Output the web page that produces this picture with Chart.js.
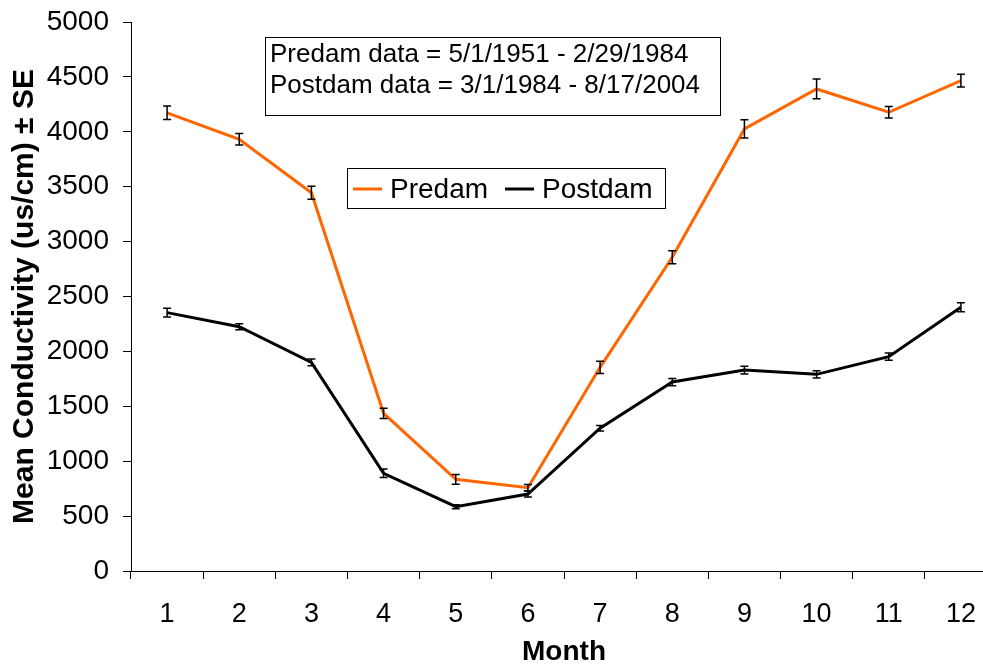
<!DOCTYPE html>
<html>
<head>
<meta charset="utf-8">
<script src="https://cdn.jsdelivr.net/npm/chart.js@4/dist/chart.umd.min.js"></script>
<style>
  html, body { margin: 0; padding: 0; background: #fff; overflow: hidden; }
  #wrap { width: 1000px; height: 667px; }
</style>
</head>
<body>
<div id="wrap"><canvas id="grafico"></canvas></div>
<script>
const months = ['1', '2', '3', '4', '5', '6', '7', '8', '9', '10', '11', '12'];
const predam = [4173, 3932, 3445, 1436, 835, 759, 1855, 2857, 4026, 4390, 4178, 4465];
const predamSE = [62, 52, 60, 47, 45, 28, 56, 59, 83, 90, 52, 58];
const postdam = [2353, 2225, 1900, 890, 586, 701, 1300, 1721, 1830, 1791, 1952, 2403];
const postdamSE = [40, 27, 30, 38, 18, 28, 25, 33, 35, 33, 33, 41];
const notes = ['Predam data = 5/1/1951 - 2/29/1984', 'Postdam data = 3/1/1984 - 8/17/2004'];

const fuente = 'Arial, "Liberation Sans", sans-serif';

// barras de error (± SE) dibujadas con las escalas del grafico
const errorBars = {
  id: 'errorBars',
  afterDatasetsDraw(chart) {
    const ctx = chart.ctx;
    const x = chart.scales.x, y = chart.scales.y;
    const series = [[predam, predamSE], [postdam, postdamSE]];
    ctx.save();
    ctx.strokeStyle = '#000';
    ctx.lineWidth = 1.5;
    series.forEach(([vals, se]) => {
      vals.forEach((v, i) => {
        const px = x.getPixelForValue(i);
        const top = y.getPixelForValue(v + se[i]);
        const bot = y.getPixelForValue(v - se[i]);
        ctx.beginPath();
        ctx.moveTo(px, top); ctx.lineTo(px, bot);
        ctx.moveTo(px - 4, top); ctx.lineTo(px + 4, top);
        ctx.moveTo(px - 4, bot); ctx.lineTo(px + 4, bot);
        ctx.stroke();
      });
    });
    ctx.restore();
  }
};

// cuadro de texto y leyenda dentro del area del grafico
const cajas = {
  id: 'cajas',
  afterDraw(chart) {
    const ctx = chart.ctx;
    ctx.save();
    ctx.strokeStyle = '#000';
    ctx.lineWidth = 1;
    ctx.fillStyle = '#fff';
    ctx.fillRect(265, 37, 455, 78);
    ctx.strokeRect(265.5, 37.5, 455, 78);
    ctx.fillStyle = '#000';
    ctx.font = '26px ' + fuente;
    ctx.textBaseline = 'alphabetic';
    ctx.fillText(notes[0], 270, 62);
    ctx.fillText(notes[1], 270, 93);

    ctx.fillStyle = '#fff';
    ctx.fillRect(347, 168, 318, 40);
    ctx.strokeRect(347.5, 168.5, 318, 40);
    ctx.font = '28px ' + fuente;
    ctx.lineWidth = 3;
    chart.data.datasets.forEach((ds, i) => {
      const lx = i === 0 ? 353 : 505;
      ctx.strokeStyle = ds.borderColor;
      ctx.beginPath();
      ctx.moveTo(lx, 189); ctx.lineTo(lx + 29, 189);
      ctx.stroke();
      ctx.fillStyle = '#000';
      ctx.fillText(ds.label, lx + 37, 198);
    });
    ctx.restore();
  }
};

const ctx = document.getElementById('grafico').getContext('2d');
new Chart(ctx, {
  type: 'line',
  data: {
    labels: months,
    datasets: [{
      label: 'Predam',
      data: predam,
      borderColor: '#ff6600',
      borderWidth: 3,
      pointRadius: 0,
      tension: 0,
      fill: false
    }, {
      label: 'Postdam',
      data: postdam,
      borderColor: '#000000',
      borderWidth: 3,
      pointRadius: 0,
      tension: 0,
      fill: false
    }]
  },
  options: {
    responsive: true,
    maintainAspectRatio: false,
    animation: false,
    layout: { padding: { top: 22, left: 0, right: 3, bottom: 0 } },
    plugins: {
      legend: { display: false },
      tooltip: { enabled: false }
    },
    scales: {
      x: {
        offset: true,
        grid: { display: true, drawOnChartArea: false, offset: true, tickLength: 8, color: '#000' },
        border: { color: '#000', width: 1 },
        ticks: { color: '#000', font: { family: fuente, size: 27 }, padding: 19, maxRotation: 0 },
        title: { display: true, text: 'Month', color: '#000', font: { family: fuente, size: 28, weight: 'bold' }, padding: { top: 0, bottom: -2 } },
        afterFit(scale) { scale.height = 96; scale.paddingLeft = 0; scale.paddingRight = 0; }
      },
      y: {
        min: 0,
        max: 5000,
        grid: { display: true, drawOnChartArea: false, tickLength: 8, color: '#000' },
        border: { color: '#000', width: 1 },
        ticks: { stepSize: 500, color: '#000', font: { family: fuente, size: 28 }, padding: 14,
          callback: (v) => String(v) },
        title: { display: true, text: 'Mean Conductivity (us/cm) ± SE', color: '#000', font: { family: fuente, size: 30, weight: 'bold' }, padding: { top: 7, bottom: 0 } },
        afterFit(scale) { scale.width = 131; scale.paddingTop = 0; scale.paddingBottom = 0; }
      }
    }
  },
  plugins: [errorBars, cajas]
});
</script>
</body>
</html>
